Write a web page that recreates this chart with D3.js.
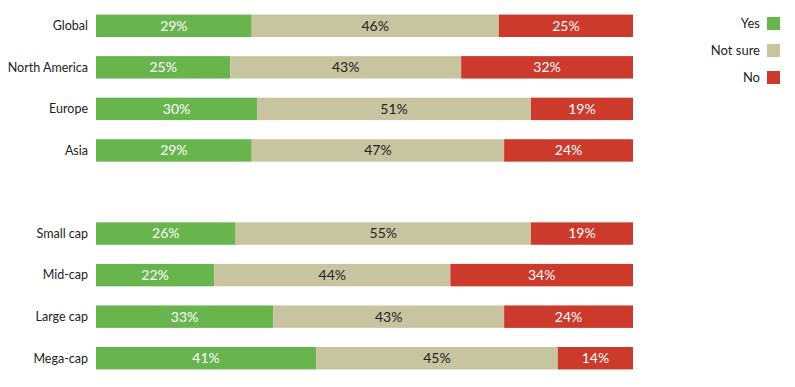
<!DOCTYPE html>
<html>
<head>
<meta charset="utf-8">
<script src="https://cdn.jsdelivr.net/npm/d3@7"></script>
<style>
  body { margin: 0; background: #fff; }
  text { font-family: Lato, "Open Sans", sans-serif; font-size: 13px; }
  .cat { font-size: 12.5px; }
  .val { font-size: 14px; }
</style>
</head>
<body>
<svg id="chart" width="795" height="387"></svg>
<script>
// categories ('' marks the blank gap between the two groups)
const categories = ['Global', 'North America', 'Europe', 'Asia', '', 'Small cap', 'Mid-cap', 'Large cap', 'Mega-cap'];
const yes = [29, 25, 30, 29, null, 26, 22, 33, 41];
const notSure = [46, 43, 51, 47, null, 55, 44, 43, 45];
const no = [25, 32, 19, 24, null, 19, 34, 24, 14];
const seriesNames = ['Yes', 'Not sure', 'No'];
const colours = ['#68b54d', '#c8c4a0', '#cc3a2b'];
const labelColours = ['#ffffff', '#222222', '#ffffff'];

const svg = d3.select('#chart');
const margin = { top: 5, left: 96, right: 162, bottom: 8 };
const width = 795 - margin.left - margin.right;
const height = 387 - margin.top - margin.bottom;

const g = svg.append('g').attr('transform', `translate(${margin.left},${margin.top})`);

const rows = categories.map((c, i) => ({ cat: c, key: 'r' + i, vals: [yes[i], notSure[i], no[i]] }));

const x = d3.scaleLinear().domain([0, 100]).range([0, width]);
const y = d3.scaleBand().domain(rows.map(d => d.key)).range([0, height]).paddingInner(0.46).paddingOuter(0.23);

const stack = d3.stack().keys([0, 1, 2]).value((d, k) => d.vals[k] || 0);
const stacked = stack(rows.filter(d => d.cat));

stacked.forEach((layer, k) => {
  const grp = g.append('g');
  grp.selectAll('rect').data(layer).enter().append('rect')
    .attr('x', d => x(d[0]))
    .attr('y', d => y(d.data.key))
    .attr('width', d => x(d[1]) - x(d[0]))
    .attr('height', y.bandwidth())
    .attr('fill', colours[k]);
  grp.selectAll('text').data(layer).enter().append('text')
    .attr('class', 'val')
    .attr('x', d => (x(d[0]) + x(d[1])) / 2)
    .attr('y', d => y(d.data.key) + y.bandwidth() / 2)
    .attr('dy', '0.35em')
    .attr('text-anchor', 'middle')
    .attr('fill', labelColours[k])
    .text(d => d.data.vals[k] + '%');
});

// category labels
g.selectAll('.cat').data(rows.filter(d => d.cat)).enter().append('text')
  .attr('class', 'cat')
  .attr('x', -8)
  .attr('y', d => y(d.key) + y.bandwidth() / 2)
  .attr('dy', '0.35em')
  .attr('text-anchor', 'end')
  .attr('fill', '#222')
  .text(d => d.cat);

// legend
const legend = svg.append('g').attr('transform', 'translate(767,17)');
const item = legend.selectAll('g').data(seriesNames).enter().append('g')
  .attr('transform', (d, i) => `translate(0,${i * 27})`);
item.append('rect').attr('width', 13).attr('height', 13).attr('fill', (d, i) => colours[i]);
item.append('text').attr('x', -7).attr('y', 6.5).attr('dy', '0.35em')
  .attr('text-anchor', 'end').attr('fill', '#222').text(d => d);
</script>
</body>
</html>
